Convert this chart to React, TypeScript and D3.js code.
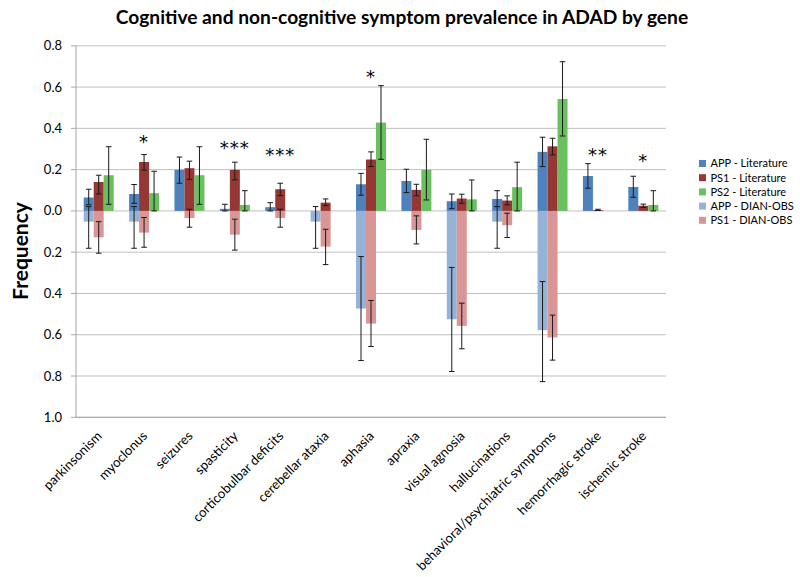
import React from "react";
import * as d3 from "d3";

const categories = [
  "parkinsonism",
  "myoclonus",
  "seizures",
  "spasticity",
  "corticobulbar deficits",
  "cerebellar ataxia",
  "aphasia",
  "apraxia",
  "visual agnosia",
  "hallucinations",
  "behavioral/psychiatric symptoms",
  "hemorrhagic stroke",
  "ischemic stroke",
];

// Literature (upward)
const appLit = [0.065, 0.082, 0.199, 0.01, 0.018, 0, 0.129, 0.145, 0.047, 0.058, 0.286, 0.169, 0.116];
const appLitLo = [0.03, 0.037, 0.134, 0.0, 0.0, null, 0.076, 0.089, 0.011, 0.021, 0.215, 0.11, 0.066];
const appLitHi = [0.105, 0.128, 0.261, 0.032, 0.04, null, 0.182, 0.202, 0.082, 0.098, 0.357, 0.229, 0.168];

const ps1Lit = [0.14, 0.237, 0.207, 0.199, 0.105, 0.04, 0.249, 0.102, 0.06, 0.05, 0.313, 0.004, 0.025];
const ps1LitLo = [0.082, 0.198, 0.153, 0.15, 0.074, 0.026, 0.215, 0.073, 0.037, 0.029, 0.271, 0.002, 0.017];
const ps1LitHi = [0.173, 0.273, 0.241, 0.236, 0.134, 0.058, 0.286, 0.129, 0.081, 0.073, 0.352, 0.008, 0.033];

const ps2Lit = [0.173, 0.086, 0.173, 0.029, 0, 0, 0.428, 0.199, 0.056, 0.115, 0.542, 0, 0.029];
const ps2LitLo = [0.032, 0.0, 0.032, 0.0, null, null, 0.25, 0.053, 0.0, 0.0, 0.363, null, 0.0];
const ps2LitHi = [0.311, 0.192, 0.311, 0.098, null, null, 0.607, 0.347, 0.15, 0.236, 0.723, null, 0.098];

// DIAN-OBS (downward)
const appDian = [0.052, 0.052, 0, 0, 0, 0.052, 0.473, 0, 0.525, 0.052, 0.578, 0, 0];
const appDianLo = [-0.021, -0.021, null, null, null, -0.021, 0.221, null, 0.274, -0.021, 0.342, null, null];
const appDianHi = [0.181, 0.181, null, null, null, 0.181, 0.725, null, 0.778, 0.181, 0.827, null, null];

const ps1Dian = [0.128, 0.105, 0.035, 0.115, 0.034, 0.173, 0.546, 0.092, 0.557, 0.069, 0.613, 0, 0];
const ps1DianLo = [0.052, 0.032, -0.008, 0.04, -0.008, 0.089, 0.434, 0.024, 0.447, 0.011, 0.505, null, null];
const ps1DianHi = [0.205, 0.176, 0.079, 0.19, 0.079, 0.26, 0.657, 0.16, 0.668, 0.129, 0.723, null, null];

const yTicks = [0.8, 0.6, 0.4, 0.2, 0.0, -0.2, -0.4, -0.6, -0.8, -1.0];

// significance markers: category index, label, height (data units)
const sigCategory = [1, 3, 4, 6, 11, 12];
const sigLabel = ["*", "***", "***", "*", "**", "*"];
const sigHeight = [0.354, 0.325, 0.292, 0.67, 0.29, 0.263];

const series = [
  { name: "APP - Literature", values: appLit, lo: appLitLo, hi: appLitHi, color: "#4f81bd", slot: 0, dir: 1 },
  { name: "PS1 - Literature", values: ps1Lit, lo: ps1LitLo, hi: ps1LitHi, color: "#953735", slot: 1, dir: 1 },
  { name: "PS2 - Literature", values: ps2Lit, lo: ps2LitLo, hi: ps2LitHi, color: "#6abf5e", slot: 2, dir: 1 },
  { name: "APP - DIAN-OBS", values: appDian, lo: appDianLo, hi: appDianHi, color: "#95b3d7", slot: 0, dir: -1 },
  { name: "PS1 - DIAN-OBS", values: ps1Dian, lo: ps1DianLo, hi: ps1DianHi, color: "#d99694", slot: 1, dir: -1 },
];

const W = 800;
const H = 577;
const left = 76;
const right = 666;
const top = 45.8;
const bottom = 417.3;
const FONT = "Lato, 'Open Sans', sans-serif";

export default function App() {
  const x = d3.scaleBand<string>().domain(categories).range([left, right]).padding(0);
  const inner = d3
    .scaleBand<string>()
    .domain(["0", "1", "2"])
    .range([0, x.bandwidth()])
    .paddingInner(0)
    .paddingOuter(0.77);
  const y = d3.scaleLinear().domain([-1, 0.8]).range([bottom, top]);
  const fmt = d3.format(".1f");
  const bw = inner.bandwidth();
  const cap = 2.8;

  const drawOrder = [3, 4, 0, 1, 2];

  return (
    <svg
      width={W}
      height={H}
      style={{ position: "absolute", left: 0, top: 0, background: "#fff" }}
      fontFamily={FONT}
    >
      <rect x={0} y={0} width={W} height={H} fill="#fff" />
      {/* title */}
      <text x={402} y={24} textAnchor="middle" fontSize={19.2} fontWeight="bold" fill="#000">
        Cognitive and non-cognitive symptom prevalence in ADAD by gene
      </text>

      {/* gridlines */}
      {yTicks.map((t) => (
        <line key={"g" + t} x1={left} x2={right} y1={y(t)} y2={y(t)} stroke="#bfbfbf" strokeWidth={1} />
      ))}
      {/* y axis */}
      <line x1={left} x2={left} y1={top} y2={bottom} stroke="#a6a6a6" strokeWidth={1} />
      {yTicks.map((t) => (
        <g key={"t" + t}>
          <line x1={left - 5} x2={left} y1={y(t)} y2={y(t)} stroke="#a6a6a6" />
          <text x={62} y={y(t)} dy="0.35em" textAnchor="end" fontSize={13} fill="#000">
            {fmt(Math.abs(t))}
          </text>
        </g>
      ))}
      <line x1={left} x2={right} y1={bottom} y2={bottom} stroke="#a6a6a6" strokeWidth={1} />

      {/* y label */}
      <text
        transform={`translate(28,251) rotate(-90)`}
        textAnchor="middle"
        fontSize={21}
        fontWeight="bold"
        fill="#000"
      >
        Frequency
      </text>

      {/* bars */}
      {drawOrder.map((si) => {
        const s = series[si];
        return (
          <g key={s.name}>
            {categories.map((c, i) => {
              const v = s.values[i];
              if (!v) return null;
              const x0 = (x(c) as number) + (inner(String(s.slot)) as number);
              const y1 = y(0);
              const y2 = y(s.dir * v);
              return (
                <rect
                  key={c}
                  x={x0}
                  width={bw}
                  y={Math.min(y1, y2)}
                  height={Math.abs(y2 - y1)}
                  fill={s.color}
                />
              );
            })}
          </g>
        );
      })}

      {/* error bars */}
      {drawOrder.map((si) => {
        const s = series[si];
        return (
          <g key={"e" + s.name} stroke="#1a1a1a" strokeWidth={1}>
            {categories.map((c, i) => {
              const lo = s.lo[i];
              const hi = s.hi[i];
              if (lo === null || hi === null) return null;
              const cx = (x(c) as number) + (inner(String(s.slot)) as number) + bw / 2;
              const ya = y(s.dir * lo);
              const yb = y(s.dir * hi);
              return (
                <g key={c}>
                  <line x1={cx} x2={cx} y1={ya} y2={yb} />
                  <line x1={cx - cap} x2={cx + cap} y1={ya} y2={ya} />
                  <line x1={cx - cap} x2={cx + cap} y1={yb} y2={yb} />
                </g>
              );
            })}
          </g>
        );
      })}

      {/* significance stars */}
      {sigCategory.map((ci, k) => {
        const c = categories[ci];
        const cx = (x(c) as number) + x.bandwidth() / 2;
        return (
          <text
            key={"s" + k}
            x={cx}
            y={y(sigHeight[k]) + 10}
            textAnchor="middle"
            fontSize={18}
            letterSpacing={1}
            fontFamily="'DejaVu Sans', sans-serif"
            fill="#000"
          >
            {sigLabel[k]}
          </text>
        );
      })}

      {/* x labels */}
      {categories.map((c) => {
        const cx = (x(c) as number) + x.bandwidth() / 2;
        return (
          <text
            key={"x" + c}
            transform={`translate(${cx + 4},${bottom + 19.5}) rotate(-45)`}
            textAnchor="end"
            fontSize={13.2}
            fill="#000"
          >
            {c}
          </text>
        );
      })}

      {/* legend */}
      {series.map((s, i) => (
        <g key={"l" + s.name} transform={`translate(699,${163.5 + i * 14.2})`}>
          <rect x={0} y={-3.5} width={7} height={7} fill={s.color} />
          <text x={11.5} y={0} dy="0.35em" fontSize={11} fill="#000">
            {s.name}
          </text>
        </g>
      ))}
    </svg>
  );
}
